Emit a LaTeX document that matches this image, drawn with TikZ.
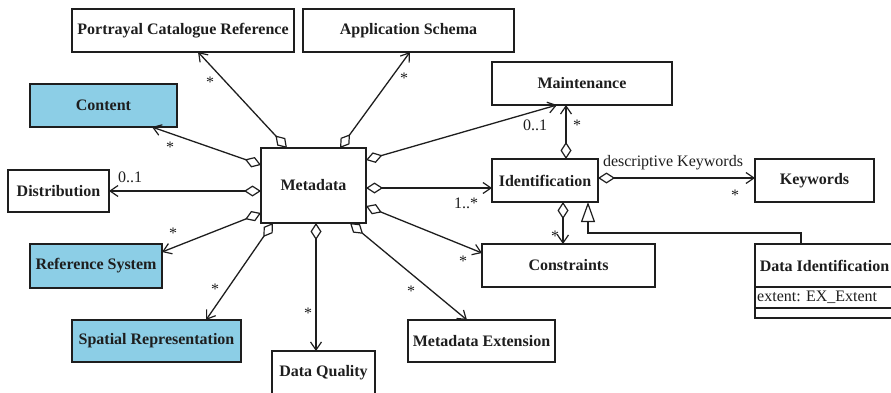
\documentclass[tikz,border=0pt]{standalone}
\usepackage{fontspec}
\setmainfont{Liberation Serif}
\usetikzlibrary{arrows.meta,calc}
\definecolor{classblue}{RGB}{140,206,230}
\definecolor{ink}{RGB}{30,30,30}
\tikzset{
  cls/.style={draw=ink, line width=1.3pt, anchor=north west, inner sep=0pt, outer sep=0pt,
    font=\fontsize{16}{18}\bfseries\selectfont, text=ink},
  shaded/.style={cls, fill=classblue},
  agg/.style={draw=ink, line width=1.3pt,
    {Diamond[open,length=17pt,width=11pt,line width=1.2pt]}-{Straight Barb[length=8pt,width=11pt,line width=1.2pt]}},
  gen/.style={draw=ink, line width=1.3pt, -{Triangle[open,length=20pt,width=14pt,line width=1.2pt]}},
  lbl/.style={inner sep=0pt, text=ink, font=\fontsize{16}{18}\selectfont},
}
\begin{document}
\begin{tikzpicture}[x=1pt,y=-1pt]
\useasboundingbox (0,0) rectangle (891,393);

% classes
\node[cls, minimum width=222, minimum height=43] (pcr) at (72,9) {Portrayal Catalogue Reference};
\node[cls, minimum width=211, minimum height=43] (app) at (303,9) {Application Schema};
\node[shaded, minimum width=147, minimum height=43] (cont) at (30,84) {Content};
\node[cls, minimum width=101, minimum height=42] (dist) at (8,170) {Distribution};
\node[cls, minimum width=105, minimum height=75] (meta) at (261,148) {Metadata};
\node[cls, minimum width=180, minimum height=43] (maint) at (492,62) {Maintenance};
\node[cls, minimum width=106, minimum height=43] (ident) at (492,159) {Identification};
\node[cls, minimum width=119, minimum height=43] (kw) at (755,159) {Keywords};
\node[shaded, minimum width=132, minimum height=44] (refsys) at (30,244) {Reference System};
\node[shaded, minimum width=169, minimum height=42] (spat) at (72,320) {Spatial Representation};
\node[cls, minimum width=103, minimum height=44] (dq) at (272,351) {Data Quality};
\node[cls, minimum width=147, minimum height=42] (mext) at (408,320) {Metadata Extension};
\node[cls, minimum width=173, minimum height=43] (cons) at (482,244) {Constraints};

% class with attribute and operation compartments
\node[cls, minimum width=139, minimum height=43] (did) at (755,244) {Data Identification};
\node[cls, minimum width=139, minimum height=21] (didattr) at (did.south west) {};
\node[lbl, anchor=west] (didtext) at ($(didattr.west)+(2,0)$) {extent: EX\_Extent};
\node[cls, minimum width=139, minimum height=10] (didops) at (didattr.south west) {};

% aggregations from Metadata
\draw[agg] ($(meta.north west)+(26,0)$) -- ($(pcr.south west)+(126,0)$);
\draw[agg] ($(meta.north west)+(79,0)$) -- ($(app.south west)+(107,0)$);
\draw[agg] ($(meta.north west)+(0,17)$) -- ($(cont.south west)+(122,0)$);
\draw[agg] ($(meta.north west)+(0,43)$) -- ($(dist.north east)+(0,21)$);
\draw[agg] ($(meta.north west)+(0,65)$) -- ($(refsys.north east)+(0,8)$);
\draw[agg] ($(meta.south west)+(12,0)$) -- ($(spat.north west)+(134,0)$);
\draw[agg] ($(meta.south west)+(55,0)$) -- ($(dq.north west)+(44,0)$);
\draw[agg] ($(meta.south west)+(89,0)$) -- ($(mext.north west)+(59,0)$);
\draw[agg] ($(meta.north east)+(0,58)$) -- ($(cons.north west)+(0,9)$);
\draw[agg] ($(meta.north east)+(0,40)$) -- ($(ident.north west)+(0,29)$);
\draw[agg] ($(meta.north east)+(0,12)$) -- ($(maint.south west)+(65,0)$);

% aggregations from Identification
\draw[agg] ($(ident.north west)+(74,0)$) -- ($(maint.south west)+(74,0)$);
\draw[agg] ($(ident.north east)+(0,19)$) -- ($(kw.north west)+(0,19)$);
\draw[agg] ($(ident.south west)+(71,0)$) -- ($(cons.north west)+(81,0)$);

% generalization
\coordinate (bendR) at ($(did.north west)+(46,-11)$);
\draw[gen] ($(did.north west)+(46,0)$) -- (bendR) -- (bendR -| {$(ident.south west)+(96,0)$}) -- ($(ident.south west)+(96,0)$);

% multiplicities and role names
\node[lbl] (m1) at (210,82) {*};
\node[lbl] (m2) at (404,78) {*};
\node[lbl] (m3) at (170,147) {*};
\node[lbl] (m4) at (130,177) {0..1};
\node[lbl] (m5) at (173,233) {*};
\node[lbl] (m6) at (215,289) {*};
\node[lbl] (m7) at (308,313) {*};
\node[lbl] (m8) at (411,291) {*};
\node[lbl] (m9) at (463,261) {*};
\node[lbl] (m10) at (466,203) {1..*};
\node[lbl] (m11) at (535,125) {0..1};
\node[lbl] (m12) at (577,125) {*};
\node[lbl] (m13) at (673,163) {descriptive Keywords};
\node[lbl] (m14) at (735,195) {*};
\node[lbl] (m15) at (555,236) {*};
\end{tikzpicture}
\end{document}
